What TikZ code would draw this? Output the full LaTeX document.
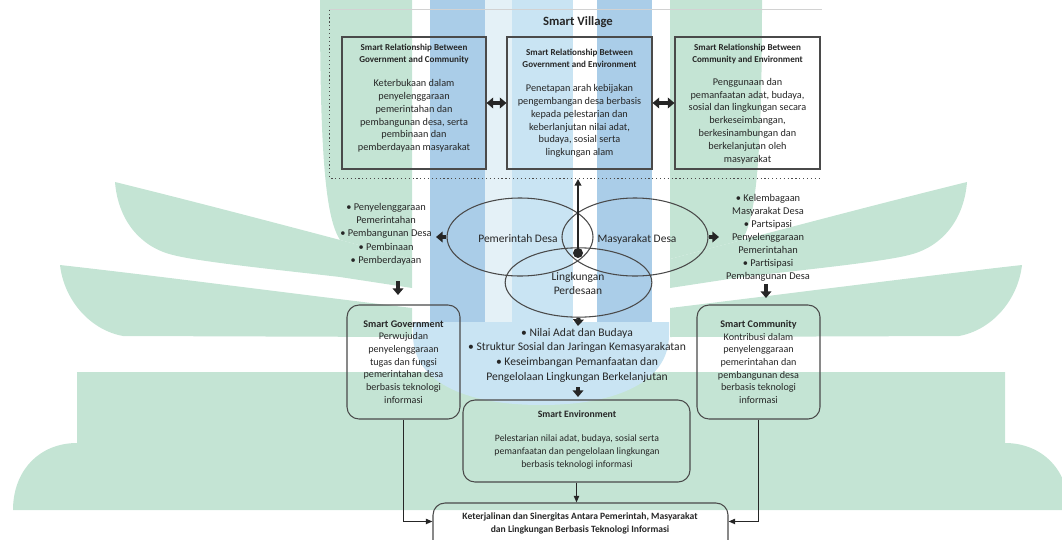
\documentclass[tikz,border=0pt]{standalone}
\usepackage{fontspec}
\setmainfont{Carlito}
\usetikzlibrary{shapes.geometric,arrows.meta,calc,fit}

\definecolor{wmgreen}{HTML}{C4E4D4}
\definecolor{wmblue}{HTML}{AACDE8}
\definecolor{wmlblue}{HTML}{C9E4F3}
\definecolor{wmpale}{HTML}{E4F1F7}
\definecolor{ink}{HTML}{262626}
\definecolor{edgec}{HTML}{4A4A4A}

\newcommand\wmHalf{%
  \fill[wmgreen] (320,0) -- (412,0) -- (412,259) -- (340,240) .. controls (326,218) and (320,160) .. (320,0) -- cycle;
  \fill[wmgreen] (115,182) .. controls (200,203) and (280,224) .. (412,259) -- (412,288) -- (340,277) .. controls (280,270) and (200,262) .. (173,255) .. controls (140,247) and (118,220) .. (115,182) -- cycle;
  \fill[wmgreen] (60,265) .. controls (150,275) and (280,292) .. (412,308) -- (412,337) -- (123,336) .. controls (90,330) and (64,300) .. (60,265) -- cycle;
  \fill[wmgreen] (77,372) -- (542,372) -- (542,510) -- (13,510) .. controls (13,470) and (40,443) .. (77,443) -- cycle;
}

\begin{document}
\begin{tikzpicture}[x=0.75pt,y=-0.75pt,
  frm/.style={draw=edgec, line width=0.8pt, inner sep=0pt},
  rbox/.style={draw=edgec, line width=0.8pt, rounded corners=9pt, inner sep=0pt},
  txt/.style={text=ink, align=center, inner sep=0pt, font=\fontsize{7.7}{9.6}\selectfont},
  ttl/.style={text=ink, align=center, inner sep=0pt, font=\bfseries\fontsize{6.8}{9}\selectfont},
  oval/.style={ellipse, draw=edgec, line width=0.8pt, inner sep=0pt},
  conn/.style={draw=ink, line width=1pt, -{Triangle[length=5pt,width=4pt]}},
  blk/.style={draw=ink, line width=3pt, -{Triangle[length=5pt,width=8pt]}},
  blkdbl/.style={draw=ink, line width=3pt, {Triangle[length=5pt,width=8pt]}-{Triangle[length=5pt,width=8pt]}},
]
\useasboundingbox (0,0) rectangle (1062,539);
\clip (0,0) rectangle (1062,539);

% ---- watermark ----
\begin{scope}
  \wmHalf
\end{scope}
\begin{scope}[shift={(1082,0)}, xscale=-1]
  \wmHalf
\end{scope}
\fill[wmpale] (485,0) rectangle (512,330);
\fill[wmblue] (430,0) rectangle (485,325);
\fill[wmlblue] (512,0) rectangle (573,330);
\fill[wmblue] (597,0) rectangle (652,325);
\fill[wmlblue] (413,322) -- (669,322) -- (669,335) .. controls (669,380) and (620,405) .. (541,405) .. controls (462,405) and (413,380) .. (413,335) -- cycle;

% ---- Smart Village frame ----
\node[fit={(330,10)(822,178)}, inner sep=0pt] (sv) {};
\draw[gray!35, line width=0.6pt] (sv.north west) -- (sv.north east);
\draw[edgec, dotted, line width=0.9pt] (sv.north west) -- (sv.south west) -- (sv.south east);
\node[text=ink, font=\bfseries\fontsize{9.5}{11}\selectfont] (svt) at (578,22) {Smart Village};

\node[frm, fit={(342,37)(486,169)}] (b1) {};
\node[frm, fit={(507,37)(652,169)}] (b2) {};
\node[frm, fit={(675,37)(820,169)}] (b3) {};

\node[ttl] (t1) at (414,54) {Smart Relationship Between\\Government and Community};
\node[txt] (x1) at (414,116) {Keterbukaan dalam\\penyelenggaraan\\pemerintahan dan\\pembangunan desa, serta\\pembinaan dan\\pemberdayaan masyarakat};
\node[ttl] (t2) at (579.5,58.5) {Smart Relationship Between\\Government and Environment};
\node[txt] (x2) at (579.5,121) {Penetapan arah kebijakan\\pengembangan desa berbasis\\kepada pelestarian dan\\keberlanjutan nilai adat,\\budaya, sosial serta\\lingkungan alam};
\node[ttl] (t3) at (747.5,54) {Smart Relationship Between\\Community and Environment};
\node[txt] (x3) at (747.5,121) {Penggunaan dan\\pemanfaatan adat, budaya,\\sosial dan lingkungan secara\\berkeseimbangan,\\berkesinambungan dan\\berkelanjutan oleh\\masyarakat};

\draw[blkdbl] (b1.east) -- (b2.west);
\draw[blkdbl] (b2.east) -- (b3.west);

% ---- ellipses ----
\node[oval, minimum width=109.5pt, minimum height=58.5pt] (e1) at (520,237) {};
\node[oval, minimum width=109.5pt, minimum height=58.5pt] (e2) at (635,237) {};
\node[oval, minimum width=110pt, minimum height=52pt] (e3) at (578.5,282.5) {};
\node[text=ink, inner sep=0pt, font=\fontsize{8.6}{10.5}\selectfont] (l1) at (518,239) {Pemerintah Desa};
\node[text=ink, inner sep=0pt, font=\fontsize{8.6}{10.5}\selectfont] (l2) at (637,239) {Masyarakat Desa};
\node[text=ink, inner sep=0pt, align=center, font=\fontsize{8.6}{10.5}\selectfont] (l3) at (578,284) {Lingkungan\\Perdesaan};

\node[circle, fill=ink, minimum size=7.5pt, inner sep=0pt] (dot) at (578,253) {};
\coordinate (svb) at (578,179);
\draw[draw=ink, line width=1.5pt, -{Triangle[length=5pt,width=5pt]}] (dot.center) -- (svb);

\coordinate (la) at (436,237);
\coordinate (ra) at (719,237);
\draw[blk] (e1.west) -- (la);
\draw[blk] (e2.east) -- (ra);

% ---- side lists ----
\node[txt, font=\fontsize{7.8}{10}\selectfont] (ll) at (386,234) {• Penyelenggaraan\\Pemerintahan\\• Pembangunan Desa\\• Pembinaan\\• Pemberdayaan};
\node[txt, font=\fontsize{7.8}{9.7}\selectfont] (rl) at (768,238) {• Kelembagaan\\Masyarakat Desa\\• Partsipasi\\Penyelenggaraan\\Pemerintahan\\• Partisipasi\\Pembangunan Desa};

\coordinate (ld1) at (398,281);
\coordinate (ld2) at (398,295);
\coordinate (rd1) at (766,284);
\coordinate (rd2) at (766,298);
\draw[blk] (ld1) -- (ld2);
\draw[blk] (rd1) -- (rd2);

\coordinate (md1) at (578,326);
\draw[blk] (e3.south) -- (md1);

\node[txt, font=\fontsize{8.7}{11}\selectfont] (mb) at (577,355) {• Nilai Adat dan Budaya\\• Struktur Sosial dan Jaringan Kemasyarakatan\\• Keseimbangan Pemanfaatan dan\\Pengelolaan Lingkungan Berkelanjutan};

% ---- smart boxes ----
\node[rbox, fit={(347,305)(460,419)}] (sg) {};
\node[rbox, fit={(697,305)(820,419)}] (sc) {};
\node[rbox, fit={(463,400)(690,482)}] (se) {};
\node[rbox, fit={(433,503)(728,570)}] (bb) {};

\node[txt, font=\fontsize{7.6}{9.5}\selectfont] (sgt) at (403.5,362) {\textbf{Smart Government}\\Perwujudan\\penyelenggaraan\\tugas dan fungsi\\pemerintahan desa\\berbasis teknologi\\informasi};
\node[txt, font=\fontsize{7.6}{9.5}\selectfont] (sct) at (758.5,362) {\textbf{Smart Community}\\Kontribusi dalam\\penyelenggaraan\\pemerintahan dan\\pembangunan desa\\berbasis teknologi\\informasi};
\node[ttl, font=\bfseries\fontsize{7.3}{9}\selectfont] (set) at (577,414) {Smart Environment};
\node[txt, font=\fontsize{7.3}{9.75}\selectfont] (seb) at (577,452) {Pelestarian nilai adat, budaya, sosial serta\\pemanfaatan dan pengelolaan lingkungan\\berbasis teknologi informasi};
\node[ttl, font=\bfseries\fontsize{7.2}{9.5}\selectfont] (bbt) at (580,523.5) {Keterjalinan dan Sinergitas Antara Pemerintah, Masyarakat\\dan Lingkungan Berbasis Teknologi Informasi};

\coordinate (md2) at (578,387);
\coordinate (md3) at (578,397);
\draw[blk] (md2) -- (md3);

\draw[conn] (se.south) -- (bb.north -| se.south);
\draw[conn] (sg.south) |- ($(bb.north west)+(0,19)$);
\draw[conn] (sc.south) |- ($(bb.north east)+(0,19)$);
\end{tikzpicture}
\end{document}
